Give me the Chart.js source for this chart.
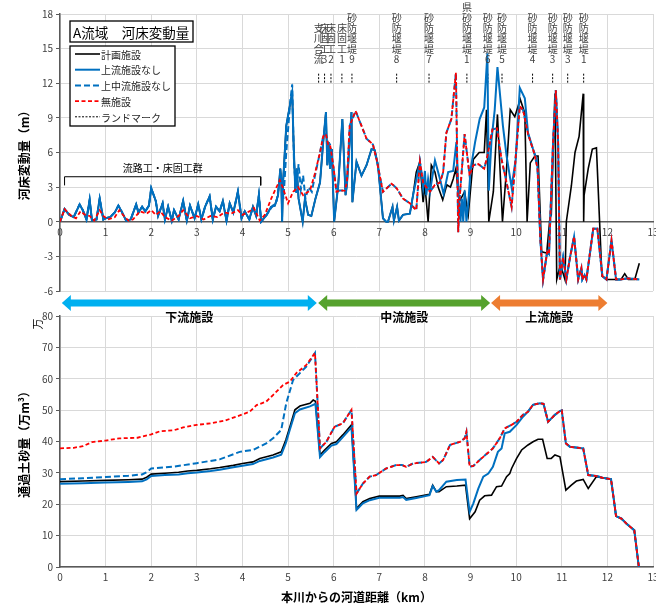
<!DOCTYPE html>
<html>
<head>
<meta charset="utf-8">
<script src="https://cdn.jsdelivr.net/npm/chart.js@4.4.1/dist/chart.umd.min.js"></script>
<style>
  html, body { margin: 0; padding: 0; background: #fff; overflow: hidden; }
  #wrap { position: relative; width: 656px; height: 606px; }
  #bedChart { position: absolute; left: 0; top: 0; }
  #sedChart { position: absolute; left: 0; top: 288px; }
</style>
</head>
<body>
<div id="wrap">
  <canvas id="bedChart" width="656" height="300"></canvas>
  <canvas id="sedChart" width="656" height="318"></canvas>
</div>
<script>
const FONT = '"Noto Sans CJK JP", "Noto Sans", sans-serif';
const BLUE = '#0070C0';
const RED = '#FF0000';
const BLACK = '#000000';

const seriesNames = ['計画施設', '上流施設なし', '上中流施設なし', '無施設'];

// ---- 河床変動量 (m) vs 距離 (km) ----
// downstream reach, same for 計画施設 / 上流施設なし / 上中流施設なし
const bedDown = [[0,0],[0.1,1.1],[0.2,0.6],[0.3,0.4],[0.43,1.5],[0.5,1.0],[0.58,0.2],[0.65,1.9],[0.7,0.1],[0.8,0.2],[0.87,2.0],[0.95,0.2],[1.0,0.3],[1.1,0.4],[1.2,0.8],[1.28,1.4],[1.35,0.9],[1.45,0.1],[1.55,0.2],[1.67,1.5],[1.72,0.8],[1.8,1.3],[1.87,0.9],[1.95,1.4],[2.0,2.9],[2.1,1.8],[2.15,0.5],[2.25,1.6],[2.3,0.2],[2.37,1.3],[2.45,0.1],[2.5,1.0],[2.6,0.2],[2.7,1.8],[2.78,0.1],[2.85,1.4],[2.95,0.3],[3.03,1.5],[3.1,0.2],[3.18,1.3],[3.28,2.2],[3.35,0.2],[3.42,1.3],[3.5,0.9],[3.57,1.8],[3.65,0.1],[3.72,1.6],[3.8,0.8],[3.9,2.6],[3.98,0.3],[4.05,0.9],[4.15,0.2],[4.23,1.3],[4.3,0.5],[4.36,2.3],[4.41,0]];
// 上流施設なし, middle reach
const bedNoUpperMid = [[4.53,0.6],[4.63,1.3],[4.71,1.4],[4.78,2.3],[4.83,4.6],[4.85,3.7],[4.87,0],[4.89,3.4],[4.96,8.3],[5.05,10.3],[5.09,11.2],[5.12,6.9],[5.16,2.6],[5.19,4.6],[5.23,2.0],[5.32,0],[5.37,2.0],[5.44,0.6],[5.51,0.5],[5.6,2.0],[5.7,3.4],[5.77,6.9],[5.83,9.5],[5.86,4.9],[5.89,6.9],[5.92,4.6],[5.96,6.3],[6.01,0],[6.1,3.2],[6.19,8.9],[6.26,2.3],[6.29,3.2],[6.39,9.5],[6.41,1.7],[6.5,5.2],[6.61,4.0],[6.72,4.9],[6.83,6.3],[6.9,6.2],[6.97,4.9],[7.08,0.3],[7.15,0],[7.19,0],[7.29,1.3],[7.32,0.1],[7.39,1.3],[7.43,0.1],[7.52,0.6],[7.67,0.7],[7.74,2.3],[7.89,5.2],[7.96,2.9],[8.0,4.4],[8.03,2.3],[8.07,3.7],[8.11,2.6],[8.22,5.3],[8.33,3.7],[8.41,2.4],[8.51,4.3],[8.62,4.4],[8.69,6.9],[8.73,3.0],[8.78,0],[8.81,2.0],[8.84,0],[8.87,2.7],[8.91,0],[8.95,1.5],[9.0,4.5],[9.1,6.9],[9.2,8.9],[9.3,9.9],[9.37,14.6],[9.4,2.7],[9.46,7.1],[9.53,9.7],[9.59,13.4],[9.71,8.3],[9.79,5.7],[9.9,3.0],[9.99,5.4],[10.08,11.6],[10.19,10.7],[10.26,7.7],[10.37,6.3],[10.45,5.4]];
// 上中流施設なし, lower-middle reach
const bedNoUpMidMid = [[4.53,0.6],[4.63,1.2],[4.75,1.8],[4.83,4.0],[4.9,2.0],[4.96,6.0],[5.05,10.5],[5.09,11.9],[5.13,5.0],[5.18,2.5],[5.23,5.0],[5.28,2.8],[5.33,4.0],[5.38,2.0],[5.45,3.0],[5.52,2.6],[5.6,4.2]];
// 計画施設, upper reach
const bedPlanUpper = [[7.74,2.3],[7.81,4.3],[7.89,5.2],[7.96,1.7],[8.0,3.2],[8.07,0],[8.14,4.9],[8.22,4.3],[8.29,3.0],[8.39,1.9],[8.48,3.2],[8.56,3.0],[8.62,3.7],[8.68,4.6],[8.75,1.7],[8.87,2.6],[8.95,0.6],[9.06,5.4],[9.19,6.0],[9.3,6.0],[9.35,9.7],[9.4,0],[9.5,2.6],[9.59,9.3],[9.7,0],[9.79,4.6],[9.87,9.7],[9.97,9.1],[10.09,10.6],[10.19,9.4],[10.24,0],[10.31,5.1],[10.41,5.7],[10.48,5.7],[10.56,-2.6],[10.67,-2.7],[10.74,0.3],[10.77,0.6],[10.85,11.1],[10.89,-5],[10.97,-3.7],[11.07,-5],[11.1,0],[11.21,3.1],[11.29,6.0],[11.38,7.4],[11.47,11.1],[11.48,0],[11.49,2.3],[11.58,4.6],[11.67,6.3],[11.76,6.4],[11.88,-4.7],[11.98,-5],[12.2,-5],[12.3,-5],[12.38,-4.5],[12.46,-5],[12.6,-5],[12.7,-3.6]];
// 無施設
const bedNone = [[0,0],[0.1,1.1],[0.25,0.5],[0.35,0.3],[0.45,0.9],[0.55,0.6],[0.65,0.5],[0.75,0.1],[0.87,1.0],[0.95,0.5],[1.05,0.2],[1.2,0.4],[1.3,1.0],[1.4,0.5],[1.5,0.1],[1.6,0.2],[1.75,0.9],[1.9,0.7],[2.0,1.0],[2.1,0.6],[2.2,0.9],[2.3,0.4],[2.45,0.1],[2.6,0.5],[2.7,1.0],[2.85,0.3],[3.0,0.5],[3.15,0.2],[3.3,0.5],[3.45,0.4],[3.6,0.8],[3.75,0.7],[3.9,1.0],[4.0,0.6],[4.15,0.9],[4.25,1.2],[4.38,0.1],[4.49,0.6],[4.63,2.0],[4.71,2.7],[4.82,3.6],[4.89,2.9],[5.0,1.6],[5.11,2.6],[5.22,3.0],[5.33,2.3],[5.48,2.7],[5.59,4.2],[5.7,6.0],[5.77,7.4],[5.83,7.6],[5.88,6.7],[5.92,6.7],[6.0,4.6],[6.06,2.6],[6.13,2.7],[6.24,2.7],[6.29,3.4],[6.35,8.3],[6.48,9.6],[6.61,8.3],[6.72,7.2],[6.86,6.7],[6.94,5.4],[7.08,2.6],[7.27,3.3],[7.38,2.9],[7.52,2.0],[7.67,1.6],[7.81,1.0],[7.89,5.2],[7.96,3.4],[8.03,3.0],[8.11,2.6],[8.22,3.2],[8.33,3.4],[8.4,4.3],[8.47,7.7],[8.58,8.9],[8.68,12.9],[8.73,-0.9],[8.76,2.0],[8.87,7.6],[8.98,4.0],[9.06,4.9],[9.17,5.0],[9.3,4.6],[9.37,5.7],[9.48,8.0],[9.58,8.1],[9.68,5.4],[9.79,3.4],[9.9,1.3],[9.97,4.6],[10.08,10.0],[10.15,9.7],[10.26,7.6],[10.4,5.9],[10.47,4.6],[10.53,-1.5],[10.59,-5],[10.68,-2.6],[10.72,-2.8],[10.77,2.6],[10.81,6.9],[10.87,11.4],[10.92,6.9],[10.96,-5],[11.03,-3.1],[11.1,-5],[11.18,-3.1],[11.27,-1.3],[11.36,-5],[11.43,-4.0],[11.45,-5],[11.5,-4.6],[11.54,-5],[11.69,-0.6],[11.78,-0.6],[11.89,-4.7],[11.98,-5],[12.09,-1.6],[12.19,-5],[12.3,-5],[12.45,-4.9],[12.7,-5]];

const landmarkKm = [5.67, 5.80, 5.94, 6.18, 6.40, 7.38, 8.09, 8.92, 9.38, 9.69, 10.36, 10.80, 11.13, 11.48];
const landmarkNames = ['支川合流', '床固工3', '床固工2', '床固工1', '砂防堰堤9', '砂防堰堤8', '砂防堰堤7', '県砂防堰堤1', '砂防堰堤6', '砂防堰堤5', '砂防堰堤4', '砂防堰堤3', '砂防堰堤3', '砂防堰堤1'];
const bracketKm = [0.1, 4.4];
const bracketLabel = '流路工・床固工群';

// ---- 通過土砂量 (万m3) vs 距離 (km) ----
const sedPlan = [[0,27.2],[0.5,27.4],[1,27.6],[1.5,27.8],[1.8,28.0],[1.9,28.6],[2.0,29.6],[2.3,29.9],[2.6,30.2],[2.8,30.6],[3.0,30.8],[3.3,31.3],[3.5,31.7],[3.8,32.4],[4.0,33.0],[4.23,33.5],[4.38,34.6],[4.67,35.7],[4.85,36.7],[4.95,40.5],[5.04,44.7],[5.15,50.1],[5.26,51.3],[5.48,52.2],[5.55,53.2],[5.6,52.8],[5.7,35.7],[5.8,37.3],[5.95,39.4],[6.06,39.9],[6.2,42.1],[6.39,45.3],[6.5,18.6],[6.64,20.8],[6.79,21.8],[7.0,22.6],[7.45,22.6],[7.52,22.8],[7.59,21.8],[7.81,22.4],[8.1,23.2],[8.17,26.1],[8.25,24.0],[8.31,24.0],[8.47,25.6],[8.7,25.8],[8.89,26.1],[8.98,15.4],[9.1,17.6],[9.2,21.3],[9.31,22.7],[9.46,22.9],[9.57,25.6],[9.68,25.8],[9.79,28.8],[9.86,29.8],[9.9,31.4],[10.01,34.6],[10.12,37.3],[10.26,38.9],[10.37,39.9],[10.48,40.7],[10.58,40.7],[10.68,34.6],[10.77,34.6],[10.85,35.7],[10.96,35.1],[11.09,24.5],[11.21,26.1],[11.32,27.4],[11.47,27.9],[11.58,25.0],[11.76,28.8]];
const sedNoUpper = [[0,26.5],[0.5,26.7],[1,26.9],[1.5,27.1],[1.8,27.3],[1.9,27.9],[2.0,29.0],[2.3,29.3],[2.6,29.5],[2.8,29.9],[3.0,30.1],[3.3,30.6],[3.5,31.0],[3.8,31.8],[4.0,32.3],[4.23,32.8],[4.38,33.8],[4.67,34.9],[4.85,35.8],[4.95,39.5],[5.04,43.8],[5.15,49.0],[5.26,50.2],[5.48,51.2],[5.6,52.0],[5.7,35.0],[5.8,36.6],[5.95,38.7],[6.06,39.2],[6.2,41.4],[6.39,44.5],[6.5,18.2],[6.64,20.3],[6.79,21.3],[7.0,22.1],[7.45,22.1],[7.52,22.3],[7.59,21.4],[7.81,22.0],[8.1,22.9],[8.17,25.8],[8.25,24.0],[8.31,24.5],[8.47,27.2],[8.7,27.7],[8.89,27.9],[8.98,17.6],[9.06,20.2],[9.17,25.0],[9.28,28.8],[9.39,29.8],[9.49,31.9],[9.6,36.7],[9.68,37.8],[9.75,42.6],[9.86,43.1],[10.01,45.3],[10.15,47.9]];
const sedNoUpMid = [[0,28.0],[0.5,28.3],[1,28.7],[1.5,29.1],[1.8,29.5],[1.9,30.2],[2.0,31.4],[2.5,32.0],[3.0,33.1],[3.5,34.3],[3.94,36.7],[4.23,37.3],[4.52,39.4],[4.67,41.0],[4.85,43.7],[4.96,52.2],[5.11,59.6],[5.26,61.8],[5.4,63.9]];
const sedNone = [[0,37.8],[0.3,38.0],[0.5,38.5],[0.7,39.8],[1.0,40.3],[1.3,41.0],[1.7,41.2],[2.0,42.3],[2.2,43.3],[2.5,43.6],[2.7,44.5],[3.0,45.3],[3.3,45.8],[3.6,46.6],[3.94,48.3],[4.16,49.5],[4.31,51.6],[4.52,52.7],[4.67,54.8],[4.89,58.0],[5.04,59.1],[5.18,61.8],[5.4,64.4],[5.59,68.2],[5.7,37.8],[5.84,39.9],[5.92,42.1],[6.02,44.7],[6.2,45.8],[6.39,50.1],[6.5,23.4],[6.64,26.6],[6.79,28.8],[6.93,29.3],[7.15,31.4],[7.37,32.5],[7.5,32.5],[7.59,31.9],[7.74,33.0],[8.03,33.5],[8.17,35.1],[8.31,33.0],[8.4,34.1],[8.55,38.9],[8.77,39.9],[8.87,41.0],[8.91,43.1],[8.98,32.0],[9.06,32.2],[9.2,34.1],[9.35,36.0],[9.49,37.8],[9.64,41.0],[9.75,44.2],[9.9,45.3],[10.01,46.3],[10.15,48.5],[10.26,49.5],[10.37,51.7],[10.52,52.2],[10.6,52.0],[10.7,46.3],[10.85,48.5],[10.96,49.7],[11.0,49.9],[11.09,39.4],[11.18,38.3],[11.47,37.8],[11.58,29.3],[11.76,29.0],[11.9,28.4],[12.08,28.0],[12.19,16.2],[12.31,15.4],[12.42,13.8],[12.59,11.7],[12.69,0]];

// facility sections (arrow band between the charts)
const sectionNames = ['下流施設', '中流施設', '上流施設'];
const sectionFrom = [0.04, 5.66, 9.45];
const sectionTo = [5.63, 9.43, 12.0];
const sectionColors = ['#00B0F0', '#56A22E', '#ED7D31'];

// where the scenarios coincide with 無施設 / each other
const after = (arr, k) => arr.filter(p => p[0] > k);
const before = (arr, k) => arr.filter(p => p[0] < k);
const bedNoUpper = bedDown.concat(bedNoUpperMid, after(bedNone, 10.46));
const bedNoUpMid = bedDown.concat(bedNoUpMidMid, after(bedNone, 5.65));
const bedPlan = bedDown.concat(before(bedNoUpperMid, 7.73), bedPlanUpper);
const sedPlanAll = sedPlan.concat(after(sedNone, 11.8));
const sedNoUpperAll = sedNoUpper.concat(after(sedNone, 10.2));
const sedNoUpMidAll = sedNoUpMid.concat(after(sedNone, 5.5));

Chart.defaults.font.family = FONT;
Chart.defaults.color = '#404040';

function lineDs(label, data, color, width, dash, order) {
  return {
    label: label,
    data: data.map(p => ({ x: p[0], y: p[1] })),
    borderColor: color,
    backgroundColor: color,
    borderWidth: width,
    borderDash: dash,
    pointRadius: 0,
    tension: 0,
    fill: false,
    spanGaps: false,
    order: order
  };
}

// title box + legend box drawn inside the plot
function makeBoxes(cfg) {
  return {
    id: 'boxes',
    afterDatasetsDraw(chart) {
      const ctx = chart.ctx;
      const t = cfg.title, L = cfg.legend;
      ctx.save();
      ctx.lineWidth = 1.3;
      ctx.strokeStyle = '#000';
      ctx.fillStyle = '#fff';
      ctx.fillRect(t.x, t.y, t.w, t.h);
      ctx.strokeRect(t.x, t.y, t.w, t.h);
      ctx.fillStyle = '#000';
      ctx.font = t.size + 'px ' + FONT;
      ctx.textBaseline = 'middle';
      ctx.textAlign = 'left';
      ctx.fillText(t.text, t.x + 3, t.y + t.h / 2 + 1);

      ctx.fillStyle = '#fff';
      ctx.fillRect(L.x, L.y, L.w, L.h);
      ctx.strokeRect(L.x, L.y, L.w, L.h);
      L.items.forEach((label, i) => {
        const ds = chart.data.datasets.find(d => d.label === label);
        const y = L.y + L.first + i * L.step;
        ctx.beginPath();
        ctx.setLineDash(ds.borderDash || []);
        ctx.strokeStyle = ds.borderColor;
        ctx.lineWidth = ds.borderWidth;
        ctx.moveTo(L.x + L.l1, y);
        ctx.lineTo(L.x + L.l2, y);
        ctx.stroke();
        ctx.setLineDash([]);
        ctx.fillStyle = '#262626';
        ctx.font = '10px ' + FONT;
        ctx.fillText(label, L.x + L.tx, y + 1);
      });
      ctx.restore();
    }
  };
}

// landmark names (vertical) and the bracket caption
const bedNotes = {
  id: 'bedNotes',
  afterDatasetsDraw(chart) {
    const ctx = chart.ctx, xs = chart.scales.x, ys = chart.scales.y;
    ctx.save();
    ctx.fillStyle = '#404040';
    ctx.font = '10px ' + FONT;
    ctx.textAlign = 'center';
    ctx.textBaseline = 'middle';
    const bottomY = chart.chartArea.top + 45.5;
    landmarkKm.forEach((k, i) => {
      const chars = Array.from(landmarkNames[i]);
      const x = xs.getPixelForValue(k);
      chars.forEach((c, j) => {
        ctx.fillText(c, x, bottomY - (chars.length - 1 - j) * 10.4);
      });
    });
    ctx.fillStyle = '#000';
    ctx.fillText(bracketLabel, xs.getPixelForValue((bracketKm[0] + bracketKm[1]) / 2), ys.getPixelForValue(4.6));
    ctx.restore();
  }
};

// arrow band with section names, plus the 万 unit mark
const sedNotes = {
  id: 'sedNotes',
  afterDraw(chart) {
    const ctx = chart.ctx, xs = chart.scales.x;
    const yc = chart.chartArea.top - 13;
    ctx.save();
    sectionNames.forEach((name, i) => {
      const x1 = xs.getPixelForValue(sectionFrom[i]);
      const x2 = xs.getPixelForValue(sectionTo[i]);
      const body = 3.6, head = 8, hl = 9;
      ctx.fillStyle = sectionColors[i];
      ctx.beginPath();
      ctx.moveTo(x1, yc);
      ctx.lineTo(x1 + hl, yc - head);
      ctx.lineTo(x1 + hl, yc - body);
      ctx.lineTo(x2 - hl, yc - body);
      ctx.lineTo(x2 - hl, yc - head);
      ctx.lineTo(x2, yc);
      ctx.lineTo(x2 - hl, yc + head);
      ctx.lineTo(x2 - hl, yc + body);
      ctx.lineTo(x1 + hl, yc + body);
      ctx.lineTo(x1 + hl, yc + head);
      ctx.closePath();
      ctx.fill();
      ctx.fillStyle = '#000';
      ctx.font = 'bold 12px ' + FONT;
      ctx.textAlign = 'center';
      ctx.textBaseline = 'middle';
      ctx.fillText(name, (x1 + x2) / 2, chart.chartArea.top + 1);
    });
    ctx.translate(38, chart.chartArea.top + 8);
    ctx.rotate(-Math.PI / 2);
    ctx.fillStyle = '#000';
    ctx.font = '11px ' + FONT;
    ctx.textAlign = 'center';
    ctx.textBaseline = 'middle';
    ctx.fillText('万', 0, 0);
    ctx.restore();
  }
};

const gridColor = '#d9d9d9';
const axisColor = '#595959';

// ---------- top: 河床変動量 ----------
const landmarkData = [];
landmarkKm.forEach(k => { landmarkData.push([k, 12.05], [k, 12.9], [k, null]); });
const bracketData = [[bracketKm[0], 3.15], [bracketKm[0], 3.9], [bracketKm[1], 3.9], [bracketKm[1], 3.15]];

new Chart(document.getElementById('bedChart'), {
  type: 'line',
  data: {
    datasets: [
      lineDs(seriesNames[0], bedPlan, BLACK, 1.6, [], 3),
      lineDs(seriesNames[1], bedNoUpper, BLUE, 2, [], 2),
      lineDs(seriesNames[2], bedNoUpMid, BLUE, 2, [6, 3], 1),
      lineDs(seriesNames[3], bedNone, RED, 1.8, [4, 2.5], 0),
      lineDs('ランドマーク', landmarkData, BLACK, 1, [2, 1.5], 4),
      lineDs('bracket', bracketData, BLACK, 1, [], 5)
    ]
  },
  options: {
    responsive: false,
    animation: false,
    events: [],
    layout: { padding: { top: 14, right: 3, bottom: 7, left: 0 } },
    plugins: { legend: { display: false }, tooltip: { enabled: false } },
    scales: {
      x: {
        type: 'linear', min: 0, max: 13,
        position: { y: 0 },
        ticks: { stepSize: 1, autoSkip: false, maxRotation: 0, font: { size: 10 }, padding: 4 },
        grid: { color: gridColor, drawTicks: false },
        border: { color: axisColor, width: 1.5 },
        afterFit(s) { s.paddingLeft = 0; s.paddingRight = 0; }
      },
      y: {
        type: 'linear', min: -6, max: 18,
        ticks: { stepSize: 3, font: { size: 10 }, padding: 3 },
        grid: { color: gridColor, tickLength: 4, tickColor: axisColor },
        border: { color: axisColor, width: 1.5 },
        title: { display: true, text: '河床変動量（m）', color: '#000', font: { size: 12, weight: 'bold' }, padding: { top: 17, bottom: 0 } },
        afterFit(s) { s.width = 60; }
      }
    }
  },
  plugins: [bedNotes, makeBoxes({
    title: { x: 70, y: 21, w: 123, h: 21, size: 13.5, text: 'A流域　河床変動量' },
    legend: { x: 70, y: 46, w: 105, h: 80, first: 8, step: 15.7, l1: 5, l2: 30, tx: 31,
      items: seriesNames.concat(['ランドマーク']) }
  })]
});

// ---------- bottom: 通過土砂量 ----------
new Chart(document.getElementById('sedChart'), {
  type: 'line',
  data: {
    datasets: [
      lineDs(seriesNames[0], sedPlanAll, BLACK, 1.6, [], 3),
      lineDs(seriesNames[1], sedNoUpperAll, BLUE, 2, [], 2),
      lineDs(seriesNames[2], sedNoUpMidAll, BLUE, 2, [6, 3], 1),
      lineDs(seriesNames[3], sedNone, RED, 1.8, [4, 2.5], 0)
    ]
  },
  options: {
    responsive: false,
    animation: false,
    events: [],
    layout: { padding: { top: 28, right: 3, bottom: 0, left: 0 } },
    plugins: { legend: { display: false }, tooltip: { enabled: false } },
    scales: {
      x: {
        type: 'linear', min: 0, max: 13,
        ticks: { stepSize: 1, autoSkip: false, maxRotation: 0, font: { size: 10 }, padding: 4 },
        grid: { color: gridColor, drawTicks: false },
        border: { color: axisColor, width: 1.5 },
        title: { display: true, text: '本川からの河道距離（km）', color: '#000', font: { size: 12, weight: 'bold' }, padding: { top: 0, bottom: 1 } },
        afterFit(s) { s.height = 39; s.paddingLeft = 0; s.paddingRight = 0; }
      },
      y: {
        type: 'linear', min: 0, max: 80,
        ticks: { stepSize: 10, font: { size: 10 }, padding: 3 },
        grid: { color: gridColor, tickLength: 4, tickColor: axisColor },
        border: { color: axisColor, width: 1.5 },
        title: { display: true, text: '通過土砂量（万m³）', color: '#000', font: { size: 12, weight: 'bold' }, padding: { top: 17, bottom: 0 } },
        afterFit(s) { s.width = 60; }
      }
    }
  },
  plugins: [sedNotes, makeBoxes({
    title: { x: 75, y: 335, w: 82, h: 19, size: 14, text: 'A流域流砂量' },
    legend: { x: 75, y: 356, w: 105, h: 61, first: 7, step: 15.5, l1: 4, l2: 28, tx: 32,
      items: seriesNames }
  })]
});
</script>
</body>
</html>
